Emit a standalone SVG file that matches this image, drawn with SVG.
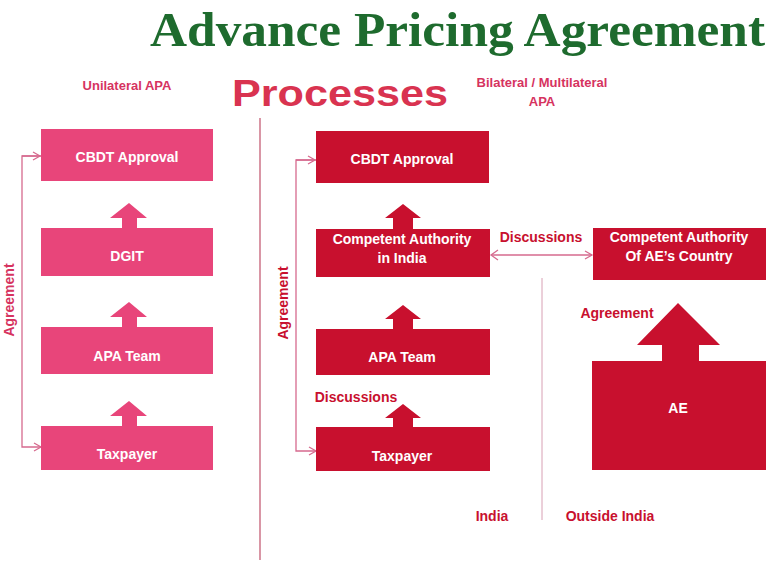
<svg xmlns="http://www.w3.org/2000/svg" width="768" height="571" viewBox="0 0 768 571">
<style>
text{font-family:"Liberation Sans",Arial,sans-serif;font-weight:bold}
.p{fill:#e8457a}.r{fill:#c8102e}
.wt{fill:#fff;font-size:14px;text-anchor:middle}
.lp{fill:#d6335f;font-size:13px}
.lr{fill:#c8102e;font-size:14px}
.ln{stroke:#d66a8e;stroke-width:1.3;fill:none}
</style>
<defs><marker id="a" markerWidth="10" markerHeight="10" refX="8" refY="5" orient="auto" markerUnits="userSpaceOnUse"><path d="M1,1 L8,5 L1,9" fill="none" stroke="#d66a8e" stroke-width="1.3"/></marker></defs>
<rect width="768" height="571" fill="#fff"/>
<text x="150" y="46" textLength="615" lengthAdjust="spacingAndGlyphs" style="font-family:'Liberation Serif',serif;font-size:48px;fill:#1e6b2e">Advance Pricing Agreement</text>
<text x="232" y="106" textLength="216" lengthAdjust="spacingAndGlyphs" style="font-size:37px;fill:#d93350">Processes</text>
<text x="127" y="90" text-anchor="middle" class="lp">Unilateral APA</text>
<text x="542" y="87" text-anchor="middle" class="lp">Bilateral / Multilateral</text>
<text x="542" y="106" text-anchor="middle" class="lp">APA</text>
<line x1="260" y1="118" x2="260" y2="560" stroke="#c0506a" stroke-width="1.2"/>
<line x1="542" y1="278" x2="542" y2="520" stroke="#d8a0b4" stroke-width="1"/>
<g id="connectors">
<path class="ln" d="M41,156 H22 V447 H41" marker-end="url(#a)"/>
<line class="ln" x1="22" y1="156" x2="40" y2="156" marker-end="url(#a)"/>
<path class="ln" d="M316,160 H296 V451 H316" marker-end="url(#a)"/>
<line class="ln" x1="296" y1="160" x2="315" y2="160" marker-end="url(#a)"/>
<line class="ln" x1="492" y1="255" x2="592" y2="255" marker-end="url(#a)"/>
<path class="ln" d="M498,250 L491,255 L498,260"/>
<path class="p" d="M122,228 V218 H110 L129,203 L147,218 H137 V228Z"/>
<path class="p" d="M122,327 V317 H110 L129,302 L147,317 H137 V327Z"/>
<path class="p" d="M122,426 V416 H110 L129,401 L147,416 H137 V426Z"/>
<path class="r" d="M393,229 V218 H385 L403,204 L421,218 H413 V229Z"/>
<path class="r" d="M393,329 V319 H385 L403,305 L421,319 H413 V329Z"/>
<path class="r" d="M393,427 V418 H385 L403,404 L421,418 H413 V427Z"/>
<path class="r" d="M662,361 V345 H637 L678,303 L720,345 H699 V361Z"/>
</g>
<text x="14" y="300" transform="rotate(-90 14 300)" text-anchor="middle" class="lp" style="font-size:14px">Agreement</text>
<text x="288" y="303" transform="rotate(-90 288 303)" text-anchor="middle" class="lr">Agreement</text>
<text x="541" y="242" text-anchor="middle" class="lr">Discussions</text>
<text x="617" y="318" text-anchor="middle" class="lr">Agreement</text>
<text x="356" y="402" text-anchor="middle" class="lr">Discussions</text>
<text x="492" y="521" text-anchor="middle" class="lr">India</text>
<text x="610" y="521" text-anchor="middle" class="lr">Outside India</text>
<g id="u-cbdt"><rect class="p" x="41" y="129" width="172" height="52"/><text class="wt" x="127" y="162">CBDT Approval</text></g>
<g id="u-dgit"><rect class="p" x="41" y="228" width="172" height="48"/><text class="wt" x="127" y="261">DGIT</text></g>
<g id="u-apa"><rect class="p" x="41" y="327" width="172" height="47"/><text class="wt" x="127" y="361">APA Team</text></g>
<g id="u-tax"><rect class="p" x="41" y="426" width="172" height="44"/><text class="wt" x="127" y="459">Taxpayer</text></g>
<g id="b-cbdt"><rect class="r" x="316" y="131" width="173" height="52"/><text class="wt" x="402" y="164">CBDT Approval</text></g>
<g id="b-ca"><rect class="r" x="316" y="229" width="174" height="48"/><text class="wt" x="402" y="244">Competent Authority</text><text class="wt" x="402" y="263">in India</text></g>
<g id="b-apa"><rect class="r" x="316" y="329" width="174" height="46"/><text class="wt" x="402" y="362">APA Team</text></g>
<g id="b-tax"><rect class="r" x="316" y="427" width="174" height="44"/><text class="wt" x="402" y="461">Taxpayer</text></g>
<g id="b-caae"><rect class="r" x="593" y="228" width="173" height="52"/><text class="wt" x="679" y="242">Competent Authority</text><text class="wt" x="679" y="261">Of AE’s Country</text></g>
<g id="b-ae"><rect class="r" x="592" y="361" width="174" height="109"/><text class="wt" x="678" y="413">AE</text></g>
</svg>
